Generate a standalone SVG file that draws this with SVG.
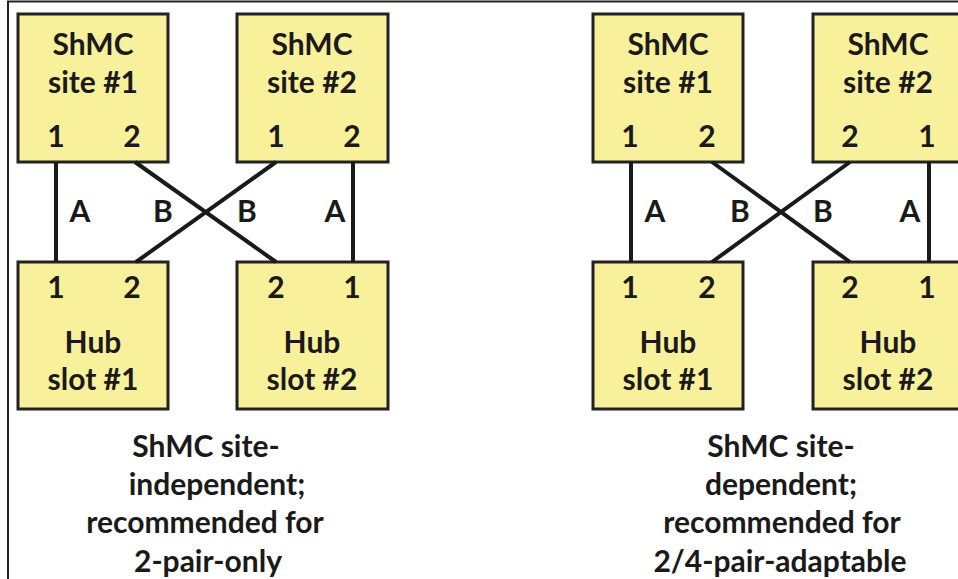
<svg xmlns="http://www.w3.org/2000/svg" width="958" height="579" viewBox="0 0 958 579">
<style>
.box{fill:#F9F09C;stroke:#222;stroke-width:3}
.t{font-family:Lato,"Open Sans",sans-serif;font-weight:bold;font-size:30px;fill:#1a1a1a;text-anchor:middle}
.c{stroke:#1a1a1a;stroke-width:4;fill:none}
.f{stroke:#222;stroke-width:2;fill:none}
</style>
<rect width="958" height="579" fill="#fff"/>
<path class="f" d="M8,579 V1.5 H958"/>
<g id="L-site1"><rect class="box" x="18" y="14" width="150" height="148"/><text class="t" x="93" y="55">ShMC</text><text class="t" x="93" y="93">site #1</text><text class="t" x="56" y="147">1</text><text class="t" x="132" y="147">2</text></g>
<g id="L-site2"><rect class="box" x="237" y="14" width="151" height="148"/><text class="t" x="312" y="55">ShMC</text><text class="t" x="312" y="93">site #2</text><text class="t" x="276" y="147">1</text><text class="t" x="352" y="147">2</text></g>
<g id="L-hub1"><rect class="box" x="18" y="262" width="150" height="147"/><text class="t" x="56" y="298">1</text><text class="t" x="132" y="298">2</text><text class="t" x="93" y="353">Hub</text><text class="t" x="93" y="390">slot #1</text></g>
<g id="L-hub2"><rect class="box" x="237" y="262" width="151" height="147"/><text class="t" x="276" y="298">2</text><text class="t" x="352" y="298">1</text><text class="t" x="312" y="353">Hub</text><text class="t" x="312" y="390">slot #2</text></g>
<g id="R-site1"><rect class="box" x="593" y="14" width="150" height="148"/><text class="t" x="668" y="55">ShMC</text><text class="t" x="668" y="93">site #1</text><text class="t" x="630" y="147">1</text><text class="t" x="707" y="147">2</text></g>
<g id="R-site2"><rect class="box" x="813" y="14" width="150" height="148"/><text class="t" x="888" y="55">ShMC</text><text class="t" x="888" y="93">site #2</text><text class="t" x="850" y="147">2</text><text class="t" x="927" y="147">1</text></g>
<g id="R-hub1"><rect class="box" x="593" y="262" width="150" height="147"/><text class="t" x="630" y="298">1</text><text class="t" x="707" y="298">2</text><text class="t" x="668" y="353">Hub</text><text class="t" x="668" y="390">slot #1</text></g>
<g id="R-hub2"><rect class="box" x="813" y="262" width="150" height="147"/><text class="t" x="850" y="298">2</text><text class="t" x="927" y="298">1</text><text class="t" x="888" y="353">Hub</text><text class="t" x="888" y="390">slot #2</text></g>
<g id="connectors">
<line class="c" x1="56" y1="162" x2="56" y2="262"/>
<line class="c" x1="135" y1="162" x2="276" y2="262"/>
<line class="c" x1="276" y1="162" x2="136" y2="262"/>
<line class="c" x1="353" y1="162" x2="353" y2="262"/>
<line class="c" x1="631" y1="162" x2="631" y2="262"/>
<line class="c" x1="712" y1="162" x2="850" y2="262"/>
<line class="c" x1="850" y1="162" x2="712" y2="262"/>
<line class="c" x1="929" y1="162" x2="929" y2="262"/>
</g>
<g id="connector-labels">
<text class="t" x="80" y="222">A</text><text class="t" x="163" y="222">B</text><text class="t" x="247" y="222">B</text><text class="t" x="335" y="222">A</text>
<text class="t" x="655" y="222">A</text><text class="t" x="740" y="222">B</text><text class="t" x="823" y="222">B</text><text class="t" x="910" y="222">A</text>
</g>
<g id="captions">
<text class="t" x="206" y="457">ShMC site-</text><text class="t" x="217" y="495">independent;</text><text class="t" x="205" y="533">recommended for</text><text class="t" x="208" y="572">2-pair-only</text>
<text class="t" x="781" y="457">ShMC site-</text><text class="t" x="781" y="495">dependent;</text><text class="t" x="782" y="533">recommended for</text><text class="t" x="780" y="572">2/4-pair-adaptable</text>
</g>
</svg>
